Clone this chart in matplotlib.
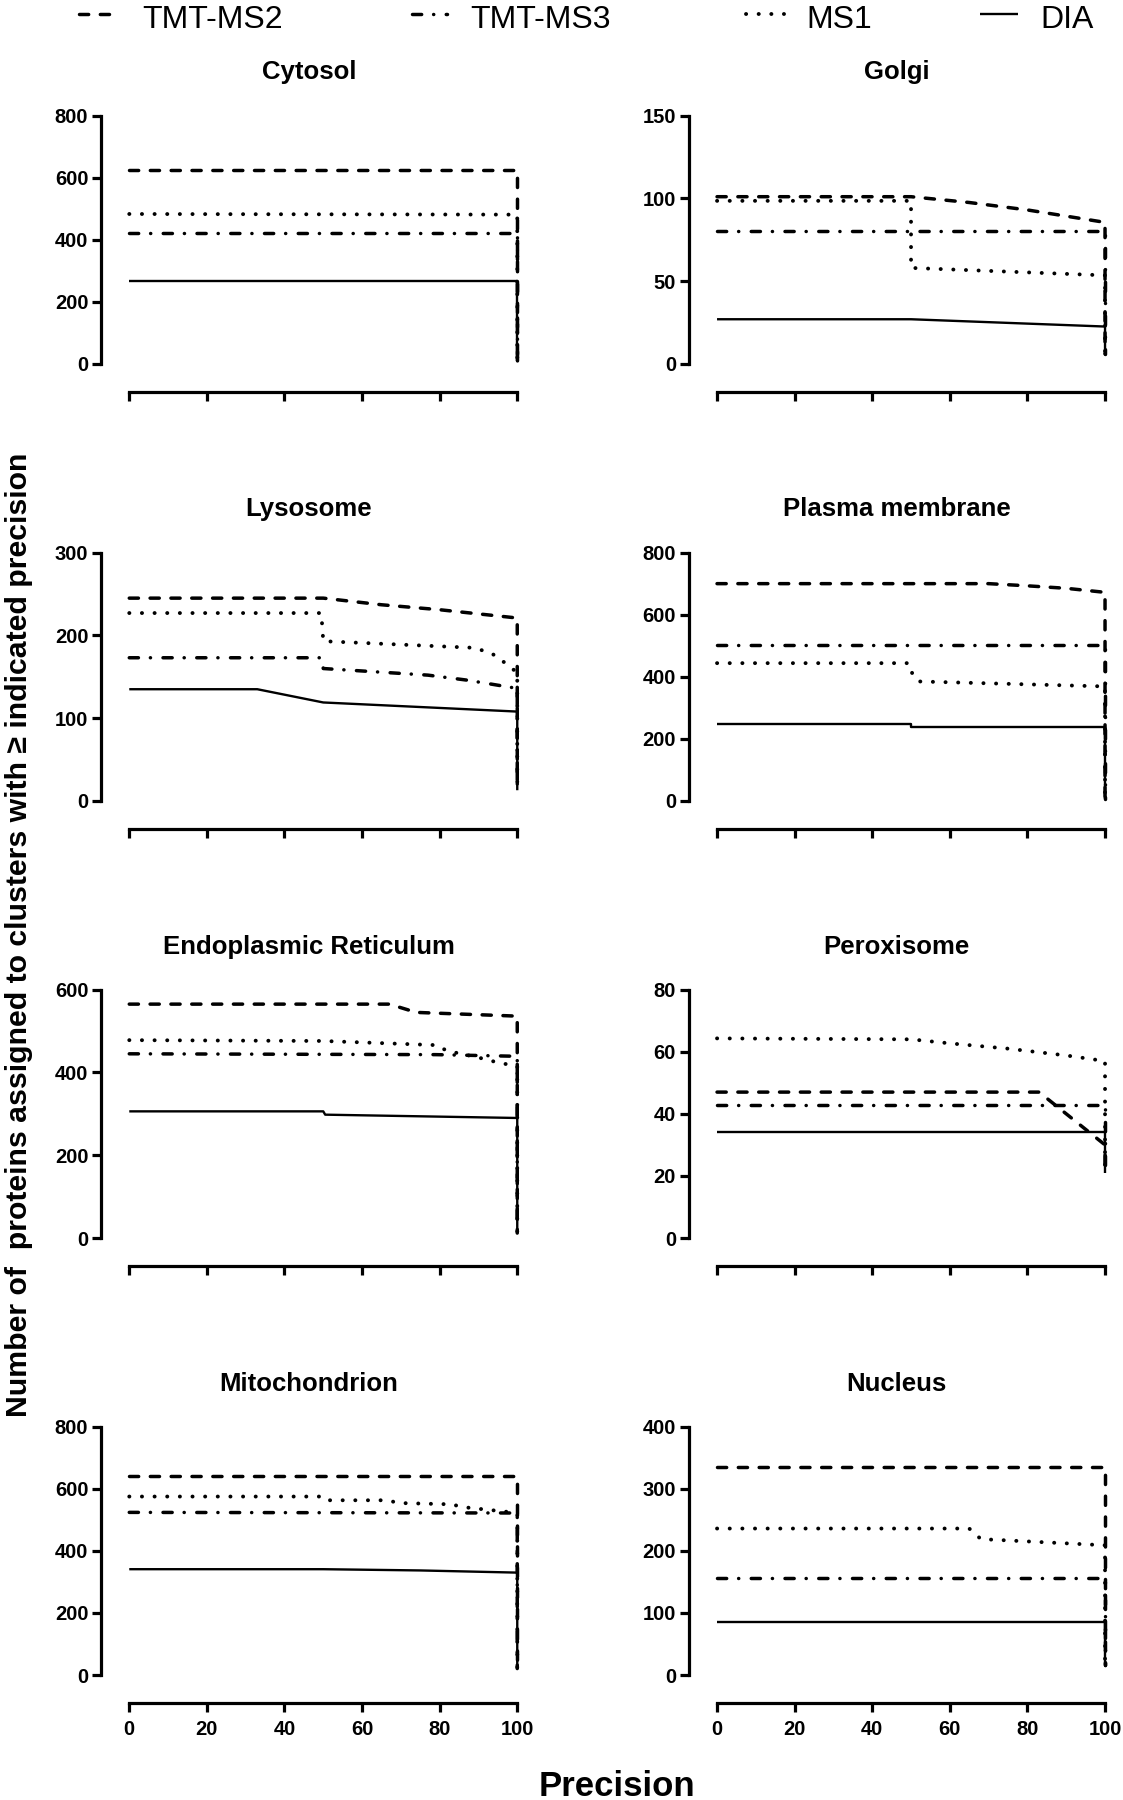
import numpy as np
import matplotlib
matplotlib.use('Agg')
import matplotlib.pyplot as plt
from matplotlib.lines import Line2D
from matplotlib import font_manager

# panels (left to right, top to bottom)
panels = ["Cytosol", "Golgi", "Lysosome", "Plasma membrane",
          "Endoplasmic Reticulum", "Peroxisome", "Mitochondrion", "Nucleus"]
ymax = [800, 150, 300, 800, 600, 80, 800, 400]
ystep = [200, 50, 100, 200, 200, 20, 200, 100]
xticks = [0, 20, 40, 60, 80, 100]

# TMT-MS2
ms2_x = [[0, 100, 100], [0, 50, 65, 80, 100, 100], [0, 50, 65, 80, 100, 100],
         [0, 70, 80, 90, 100, 100], [0, 67, 74, 100, 100], [0, 83, 100, 100],
         [0, 100, 100], [0, 100, 100]]
ms2_y = [[625, 625, 8], [101, 101, 97.5, 93, 85.5, 6], [245, 245, 237, 231, 221, 13],
         [700, 700, 693, 685, 672, 8], [565, 565, 545, 536, 12], [47, 47, 30, 22],
         [640, 640, 21], [335, 335, 16]]

# TMT-MS3
ms3_x = [[0, 100, 100], [0, 100, 100], [0, 49.5, 50, 77, 87, 100, 100],
         [0, 100, 100], [0, 79, 100, 100], [0, 100, 100],
         [0, 100, 100], [0, 100, 100]]
ms3_y = [[422, 422, 10], [80.5, 80.5, 6], [173, 173, 160, 152, 146, 136, 13],
         [502, 502, 8], [445, 443, 439, 12], [43, 43, 22],
         [524, 522, 21], [157, 157, 16]]

# MS1
ms1_x = [[0, 100, 100], [0, 50, 50, 100, 100], [0, 49.5, 50, 89, 93.5, 96.5, 100, 100],
         [0, 49.5, 50.5, 52, 100, 100], [0, 50, 79, 82, 90, 95, 100, 100],
         [0, 50, 60, 75, 90, 100, 100],
         [0, 50, 51, 66, 70, 83, 86, 98, 100, 100], [0, 65, 68, 100, 100]]
ms1_y = [[483, 481, 10], [98.5, 98.5, 58, 53.5, 6], [227, 227, 193, 185, 178, 168, 155, 13],
         [444, 444, 403, 385, 369, 8], [478, 476, 466, 452, 436, 424, 415, 12],
         [64.3, 64, 62.7, 61, 58.8, 57, 23],
         [575, 575, 563, 563, 554, 550, 541, 525, 518, 21], [236, 236, 219, 209, 16]]

# DIA
dia_x = [[0, 100, 100], [0, 50, 100, 100], [0, 33, 50, 100, 100],
         [0, 50, 50, 100, 100], [0, 50, 50.5, 100, 100], [0, 100, 100],
         [0, 50, 75, 100, 100], [0, 100, 100]]
dia_y = [[266, 266, 10], [27, 27, 22.6, 6], [135, 135, 119, 108, 13],
         [248.5, 248.5, 238, 238, 8], [306, 306, 298, 290, 12], [34, 34, 21],
         [341, 341, 337, 330, 21], [85, 85, 16]]

series_names = ["TMT-MS2", "TMT-MS3", "MS1", "DIA"]
series_x = [ms2_x, ms3_x, ms1_x, dia_x]
series_y = [ms2_y, ms3_y, ms1_y, dia_y]

# line styles (dash lengths in points, not scaled)
plt.rcParams['font.family'] = ['Liberation Sans', 'DejaVu Sans']
plt.rcParams['lines.scale_dashes'] = False
styles = [
    dict(lw=2.5, ls=(0, (6.6, 8.4)), dash_capstyle='round'),
    dict(lw=2.5, ls=(0, (6.6, 8.6, 0.1, 9.0)), dash_capstyle='round'),
    dict(lw=2.8, ls=(0, (0.1, 9.0)), dash_capstyle='round'),
    dict(lw=1.7, ls='-', solid_capstyle='butt'),
]

fig = plt.figure(figsize=(11.23, 18), dpi=100)

col_x = [0.1151, 0.6385]
row_y = [0.7978, 0.555, 0.3122, 0.0694]
w, h = 0.3455, 0.138

for i, name in enumerate(panels):
    r, c = divmod(i, 2)
    ax = fig.add_axes([col_x[c], row_y[r], w, h])
    for k in range(4):
        ax.plot(series_x[k][i], series_y[k][i], color='black', clip_on=False,
                solid_joinstyle='round', **styles[k])
    ax.set_xlim(0, 100)
    ax.set_ylim(0, ymax[i])
    ax.spines['top'].set_visible(False)
    ax.spines['right'].set_visible(False)
    for sp in ['left', 'bottom']:
        ax.spines[sp].set_position(('outward', 20))
        ax.spines[sp].set_linewidth(2.3)
    ax.set_xticks(xticks)
    ax.set_yticks(np.arange(0, ymax[i] + 1, ystep[i]))
    ax.tick_params(width=2.3, length=6.5, labelsize=14.5)
    ax.tick_params(axis='x', pad=6)
    ax.tick_params(axis='y', pad=3)
    for lbl in ax.get_xticklabels() + ax.get_yticklabels():
        lbl.set_fontweight('bold')
    if r < 3:
        ax.set_xticklabels([])
    ax.set_title(name, fontsize=18.5, fontweight='bold', x=0.463, pad=26)

# legend drawn by hand along the top
installed = {f.name for f in font_manager.fontManager.ttflist}
if 'Liberation Sans Narrow' in installed:
    leg_font = dict(family=['Liberation Sans Narrow', 'Liberation Sans'], fontsize=28)
else:
    leg_font = dict(family=['Liberation Sans'], fontsize=23)
handle_px = [(79, 117), (412, 447), (746, 784), (980, 1018)]
text_px = [142, 470, 806, 1040]
for k in range(4):
    x0, x1 = handle_px[k]
    fig.add_artist(Line2D([x0 / 1123, x1 / 1123], [1 - 14 / 1800] * 2,
                          transform=fig.transFigure, color='black', **styles[k]))
    fig.text(text_px[k] / 1123, 1 - 20 / 1800, series_names[k], ha='left', va='center',
             **leg_font)

fig.text(0.0169, 0.4806,
         "Number of  proteins assigned to clusters with \u2265 indicated precision",
         rotation=90, ha='center', va='center', fontsize=21.8, fontweight='bold')
fig.text(0.549, 0.002, "Precision", ha='center', va='baseline',
         fontsize=25, fontweight='bold')

fig.savefig('out.png', dpi=100)
